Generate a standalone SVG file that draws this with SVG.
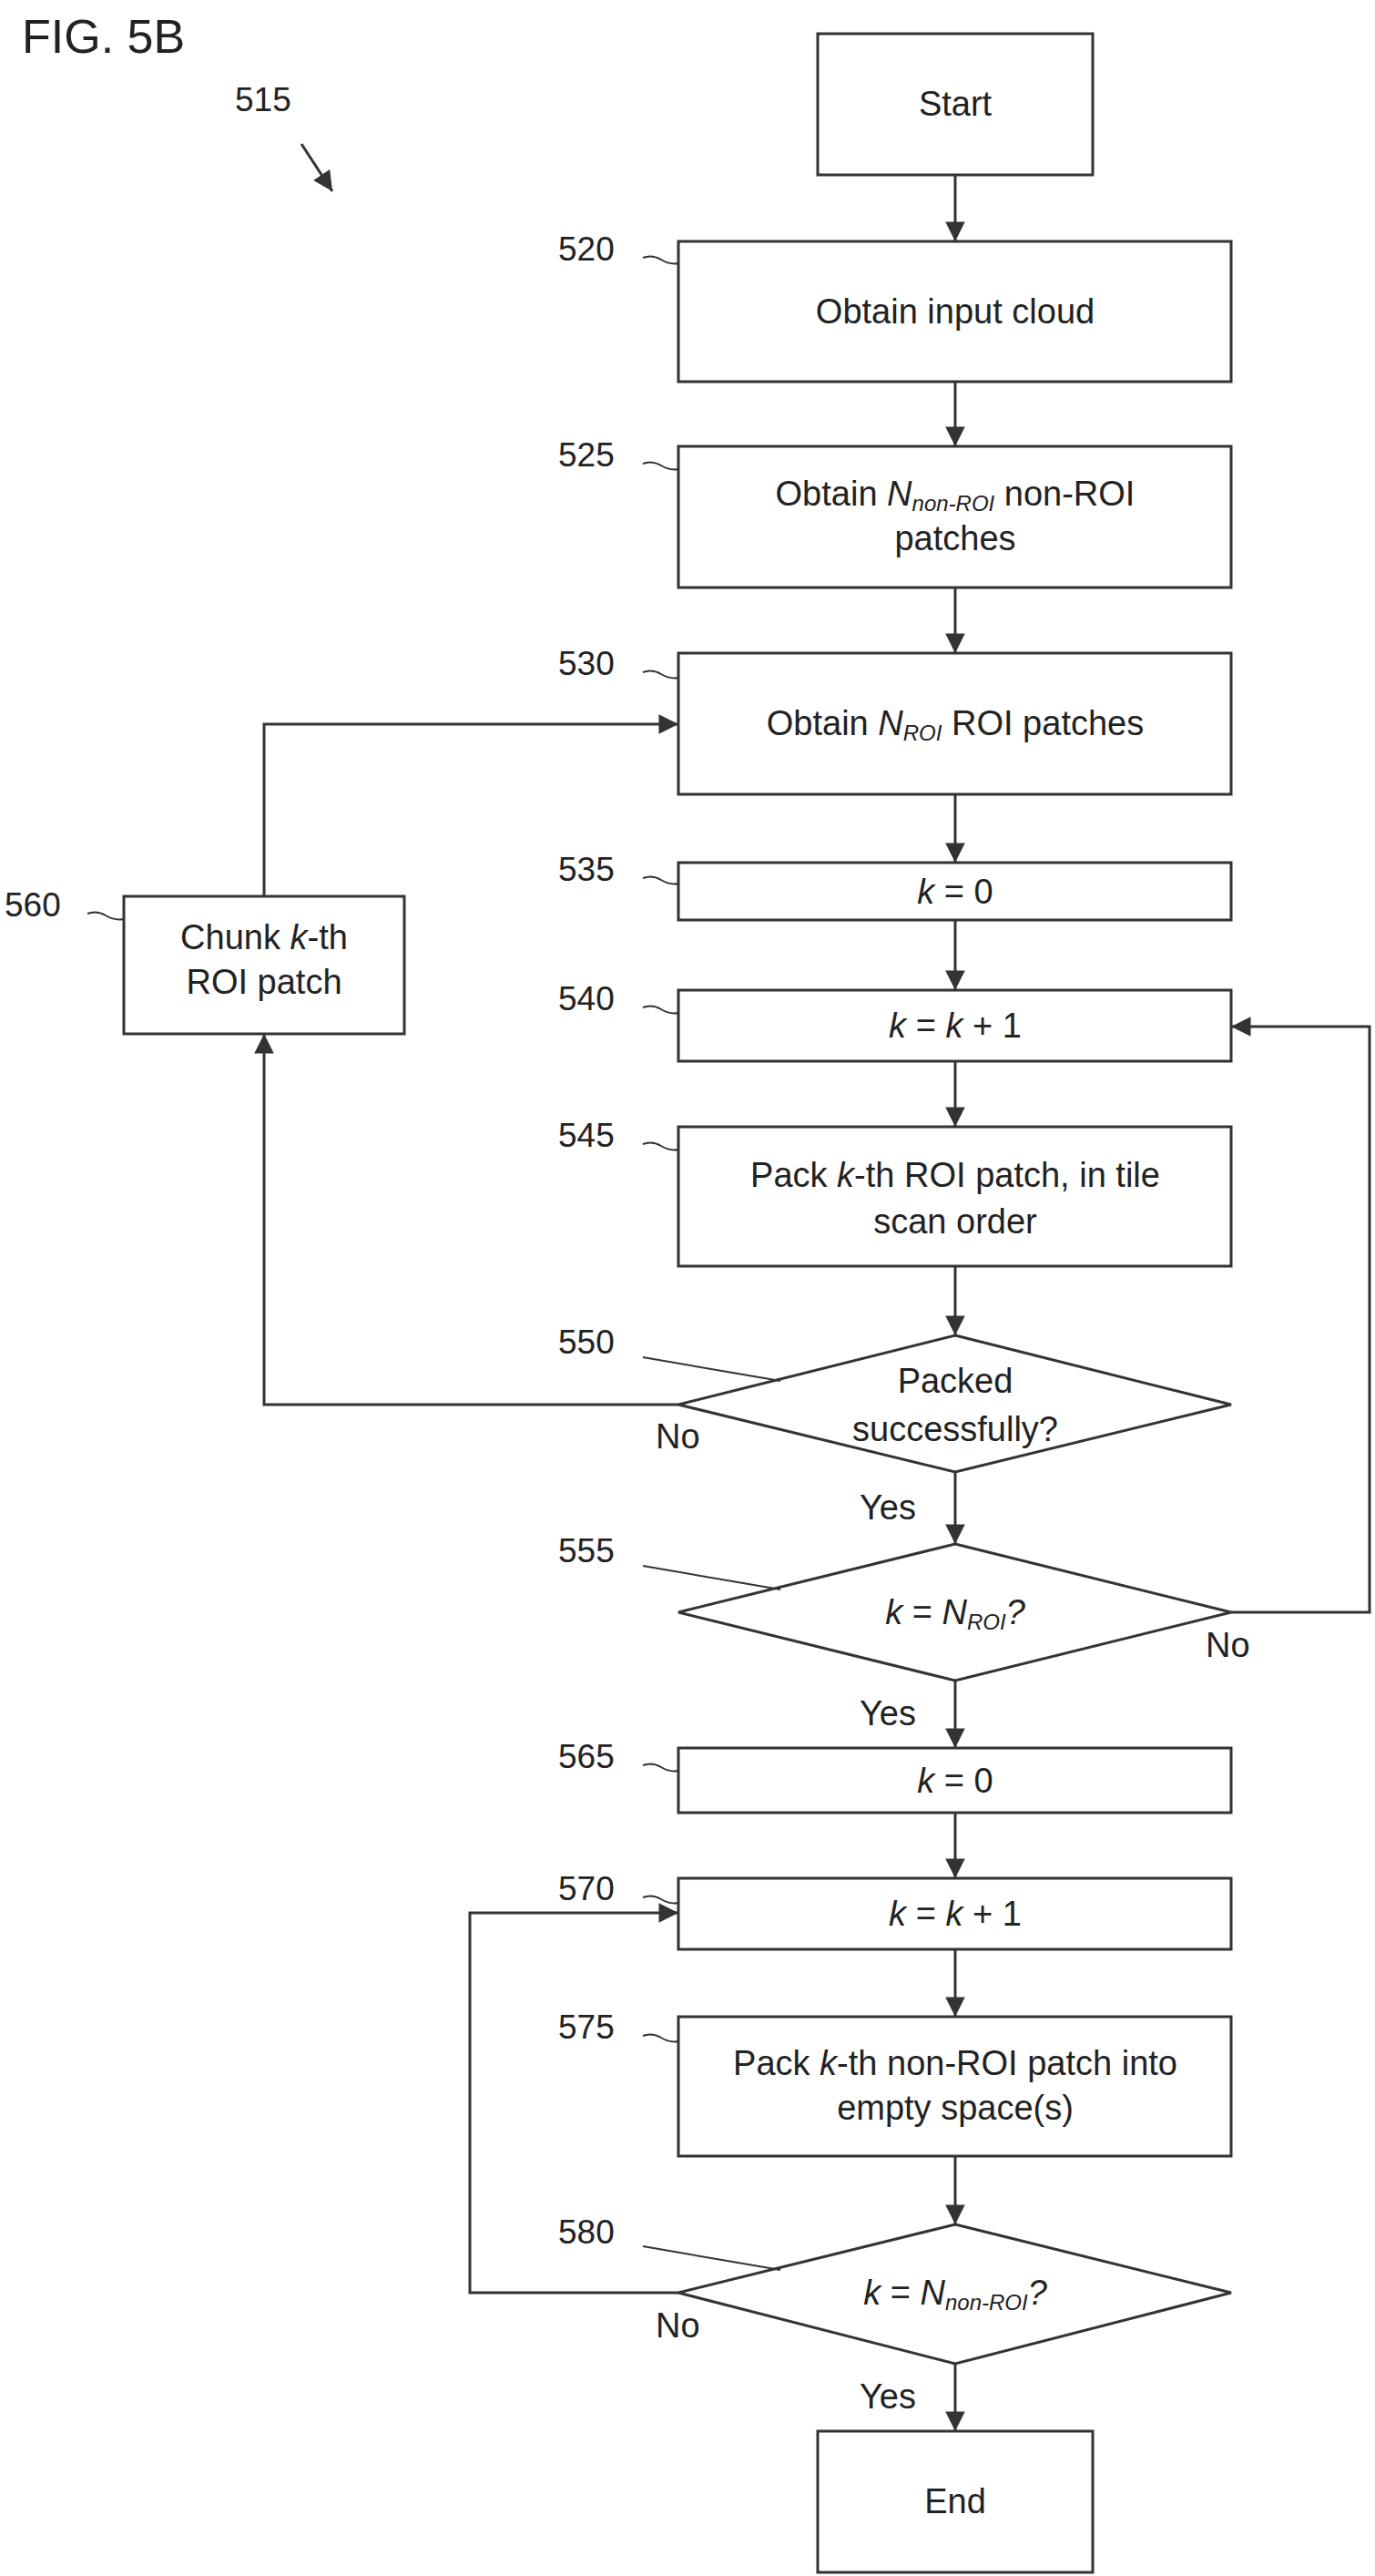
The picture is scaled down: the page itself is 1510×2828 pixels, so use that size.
<svg xmlns="http://www.w3.org/2000/svg" width="1510" height="2828" viewBox="0 0 1510 2828">
<style>
.b{fill:#fff;stroke:#333;stroke-width:3}
.t{font-family:"Liberation Sans",Arial,sans-serif;font-size:38px;fill:#222;text-anchor:middle}
.n{font-family:"Liberation Sans",Arial,sans-serif;font-size:37px;fill:#222}
.c{fill:none;stroke:#333;stroke-width:3}
.l{fill:none;stroke:#333;stroke-width:2}
</style>
<defs><marker id="a" viewBox="0 0 10 10" refX="10" refY="5" markerWidth="9" markerHeight="9" markerUnits="userSpaceOnUse" orient="auto" style="overflow:visible"><path d="M0,0 L10,5 L0,10 Z" fill="#333" transform="scale(2.4) translate(-5.8,-2.9)"/></marker></defs>
<text x="24" y="58" class="n" style="font-size:52px">FIG. 5B</text>
<text x="258" y="122" class="n">515</text>
<line x1="331" y1="158" x2="365" y2="210" class="c" marker-end="url(#a)"/>
<g id="connectors">
<line x1="1049" y1="192" x2="1049" y2="265" class="c" marker-end="url(#a)"/>
<line x1="1049" y1="419" x2="1049" y2="490" class="c" marker-end="url(#a)"/>
<line x1="1049" y1="645" x2="1049" y2="717" class="c" marker-end="url(#a)"/>
<line x1="1049" y1="872" x2="1049" y2="947" class="c" marker-end="url(#a)"/>
<line x1="1049" y1="1010" x2="1049" y2="1087" class="c" marker-end="url(#a)"/>
<line x1="1049" y1="1165" x2="1049" y2="1237" class="c" marker-end="url(#a)"/>
<line x1="1049" y1="1390" x2="1049" y2="1466" class="c" marker-end="url(#a)"/>
<line x1="1049" y1="1616" x2="1049" y2="1695" class="c" marker-end="url(#a)"/>
<line x1="1049" y1="1845" x2="1049" y2="1919" class="c" marker-end="url(#a)"/>
<line x1="1049" y1="1990" x2="1049" y2="2062" class="c" marker-end="url(#a)"/>
<line x1="1049" y1="2140" x2="1049" y2="2214" class="c" marker-end="url(#a)"/>
<line x1="1049" y1="2367" x2="1049" y2="2442" class="c" marker-end="url(#a)"/>
<line x1="1049" y1="2595" x2="1049" y2="2669" class="c" marker-end="url(#a)"/>
<polyline points="290,984 290,795 745,795" class="c" marker-end="url(#a)"/>
<polyline points="745,1542 290,1542 290,1135" class="c" marker-end="url(#a)"/>
<polyline points="1352,1770 1504,1770 1504,1127 1352,1127" class="c" marker-end="url(#a)"/>
<polyline points="745,2517 516,2517 516,2100 745,2100" class="c" marker-end="url(#a)"/>
</g>
<g id="start"><rect x="898" y="37" width="302" height="155" class="b"/><text x="1049" y="127" class="t">Start</text></g>
<g id="n520"><rect x="745" y="265" width="607" height="154" class="b"/><text x="1049" y="355" class="t">Obtain input cloud</text>
<text x="613" y="286" class="n">520</text><path d="M706,283 q10,-4 20,2 t19,4" class="l"/></g>
<g id="n525"><rect x="745" y="490" width="607" height="155" class="b"/><text x="1049" y="555" class="t">Obtain <tspan font-style="italic">N<tspan font-size="24" dy="6">non-ROI</tspan></tspan><tspan dy="-6"> non-ROI</tspan></text><text x="1049" y="604" class="t">patches</text>
<text x="613" y="512" class="n">525</text><path d="M706,509 q10,-4 20,2 t19,4" class="l"/></g>
<g id="n530"><rect x="745" y="717" width="607" height="155" class="b"/><text x="1049" y="807" class="t">Obtain <tspan font-style="italic">N<tspan font-size="24" dy="6">ROI</tspan></tspan><tspan dy="-6"> ROI patches</tspan></text>
<text x="613" y="741" class="n">530</text><path d="M706,738 q10,-4 20,2 t19,4" class="l"/></g>
<g id="n535"><rect x="745" y="947" width="607" height="63" class="b"/><text x="1049" y="992" class="t"><tspan font-style="italic">k</tspan> = 0</text>
<text x="613" y="967" class="n">535</text><path d="M706,964 q10,-4 20,2 t19,4" class="l"/></g>
<g id="n560"><rect x="136" y="984" width="308" height="151" class="b"/><text x="290" y="1042" class="t">Chunk <tspan font-style="italic">k</tspan>-th</text><text x="290" y="1091" class="t">ROI patch</text>
<text x="5" y="1006" class="n">560</text><path d="M96,1003 q10,-4 20,2 t20,4" class="l"/></g>
<g id="n540"><rect x="745" y="1087" width="607" height="78" class="b"/><text x="1049" y="1139" class="t"><tspan font-style="italic">k</tspan> = <tspan font-style="italic">k</tspan> + 1</text>
<text x="613" y="1109" class="n">540</text><path d="M706,1106 q10,-4 20,2 t19,4" class="l"/></g>
<g id="n545"><rect x="745" y="1237" width="607" height="153" class="b"/><text x="1049" y="1303" class="t">Pack <tspan font-style="italic">k</tspan>-th ROI patch, in tile</text><text x="1049" y="1354" class="t">scan order</text>
<text x="613" y="1259" class="n">545</text><path d="M706,1256 q10,-4 20,2 t19,4" class="l"/></g>
<g id="n550"><polygon points="1049,1466 1352,1542 1049,1616 745,1542" class="b"/><text x="1049" y="1529" class="t">Packed</text><text x="1049" y="1582" class="t">successfully?</text>
<text x="613" y="1486" class="n">550</text><line x1="706" y1="1490" x2="857" y2="1516" class="l"/>
<text x="720" y="1590" class="t" style="text-anchor:start">No</text><text x="944" y="1668" class="t" style="text-anchor:start">Yes</text></g>
<g id="n555"><polygon points="1049,1695 1352,1770 1049,1845 745,1770" class="b"/><text x="1049" y="1783" class="t"><tspan font-style="italic">k</tspan> = <tspan font-style="italic">N<tspan font-size="24" dy="6">ROI</tspan><tspan dy="-6">?</tspan></tspan></text>
<text x="613" y="1715" class="n">555</text><line x1="706" y1="1719" x2="857" y2="1745" class="l"/>
<text x="1324" y="1819" class="t" style="text-anchor:start">No</text><text x="944" y="1894" class="t" style="text-anchor:start">Yes</text></g>
<g id="n565"><rect x="745" y="1919" width="607" height="71" class="b"/><text x="1049" y="1968" class="t"><tspan font-style="italic">k</tspan> = 0</text>
<text x="613" y="1941" class="n">565</text><path d="M706,1938 q10,-4 20,2 t19,4" class="l"/></g>
<g id="n570"><rect x="745" y="2062" width="607" height="78" class="b"/><text x="1049" y="2114" class="t"><tspan font-style="italic">k</tspan> = <tspan font-style="italic">k</tspan> + 1</text>
<text x="613" y="2086" class="n">570</text><path d="M706,2083 q10,-4 20,2 t19,4" class="l"/></g>
<g id="n575"><rect x="745" y="2214" width="607" height="153" class="b"/><text x="1049" y="2278" class="t">Pack <tspan font-style="italic">k</tspan>-th non-ROI patch into</text><text x="1049" y="2327" class="t">empty space(s)</text>
<text x="613" y="2238" class="n">575</text><path d="M706,2235 q10,-4 20,2 t19,4" class="l"/></g>
<g id="n580"><polygon points="1049,2442 1352,2517 1049,2595 745,2517" class="b"/><text x="1049" y="2530" class="t"><tspan font-style="italic">k</tspan> = <tspan font-style="italic">N<tspan font-size="24" dy="6">non-ROI</tspan><tspan dy="-6">?</tspan></tspan></text>
<text x="613" y="2463" class="n">580</text><line x1="706" y1="2466" x2="857" y2="2492" class="l"/>
<text x="720" y="2566" class="t" style="text-anchor:start">No</text><text x="944" y="2644" class="t" style="text-anchor:start">Yes</text></g>
<g id="end"><rect x="898" y="2669" width="302" height="155" class="b"/><text x="1049" y="2759" class="t">End</text></g>
</svg>
